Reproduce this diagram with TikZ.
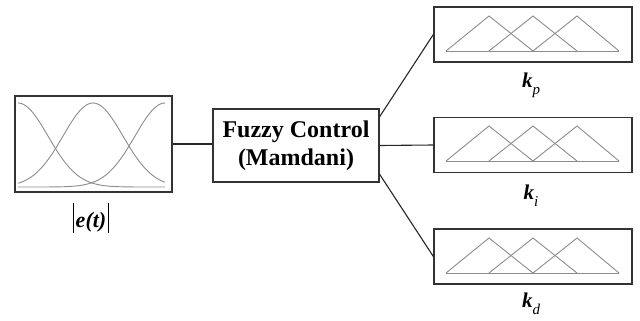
\documentclass[tikz,border=0pt]{standalone}
\usepackage{fontspec}
\setmainfont{Liberation Serif}
\usepackage{tikz}
\tikzstyle{box}=[rectangle,draw=black!80,line width=1.3pt,fill=white,inner sep=0pt]
\tikzstyle{link}=[draw=black!85,line width=1.1pt]
\tikzstyle{mf}=[draw=black!45,line width=0.9pt]
\tikzstyle{gain}=[font=\fontsize{21}{24}\selectfont\bfseries\itshape,anchor=base]
\newcommand{\gsub}[1]{\raisebox{-7pt}{\fontsize{15}{17}\selectfont\mdseries\itshape #1}}

\begin{document}
\begin{tikzpicture}[x=1pt,y=-1pt]
  \useasboundingbox (0,0) rectangle (640,321);

  \node[box,minimum width=157pt,minimum height=96pt] (E) at (93.5,144) {};
  \node[box,minimum width=166pt,minimum height=73pt,align=center,
        font=\fontsize{24}{28}\selectfont\bfseries] (F) at (296,145.5)
        {Fuzzy Control\\(Mamdani)};
  \node[box,minimum width=198pt,minimum height=55pt] (Kp) at (533,34.5) {};
  \node[box,minimum width=198pt,minimum height=55pt] (Ki) at (533,145) {};
  \node[box,minimum width=198pt,minimum height=55pt] (Kd) at (533,256.5) {};

  \node[font=\fontsize{22}{24}\selectfont,anchor=base] (el) at (91,227)
        {\rule[-6pt]{0.9pt}{30pt}\hspace{2pt}\textbf{\textit{e(t)}}\hspace{2pt}\rule[-6pt]{0.9pt}{30pt}};
  \node[gain] (kpl) at (531,88) {k\gsub{p}};
  \node[gain] (kil) at (531,199) {k\gsub{i}};
  \node[gain] (kdl) at (531,307) {k\gsub{d}};

  \draw[link] (E.east) -- (E.east -| F.west);
  \draw[link] (F.19) -- (Kp.west);
  \draw[link] (F.east) -- (Ki.west);
  \draw[link] (F.-19) -- (Kd.west);

  % gaussian sets of e(t)
  \draw[mf] plot[domain=18:165,samples=60] (\x,{187-84*exp(-0.5*((\x-18)/30)^2)});
  \draw[mf] plot[domain=18:165,samples=60] (\x,{187-84*exp(-0.5*((\x-93)/30)^2)});
  \draw[mf] plot[domain=18:165,samples=60] (\x,{187-84*exp(-0.5*((\x-165)/30)^2)});

  % triangle sets of the gains
  \foreach \yt in {7,117,229}{
    \draw[mf] (446,\yt+44) -- (619,\yt+44);
    \draw[mf] (446,\yt+44) -- (489,\yt+9) -- (533,\yt+44);
    \draw[mf] (489,\yt+44) -- (533,\yt+9) -- (577,\yt+44);
    \draw[mf] (533,\yt+44) -- (577,\yt+9) -- (619,\yt+44);
  }
\end{tikzpicture}
\end{document}
